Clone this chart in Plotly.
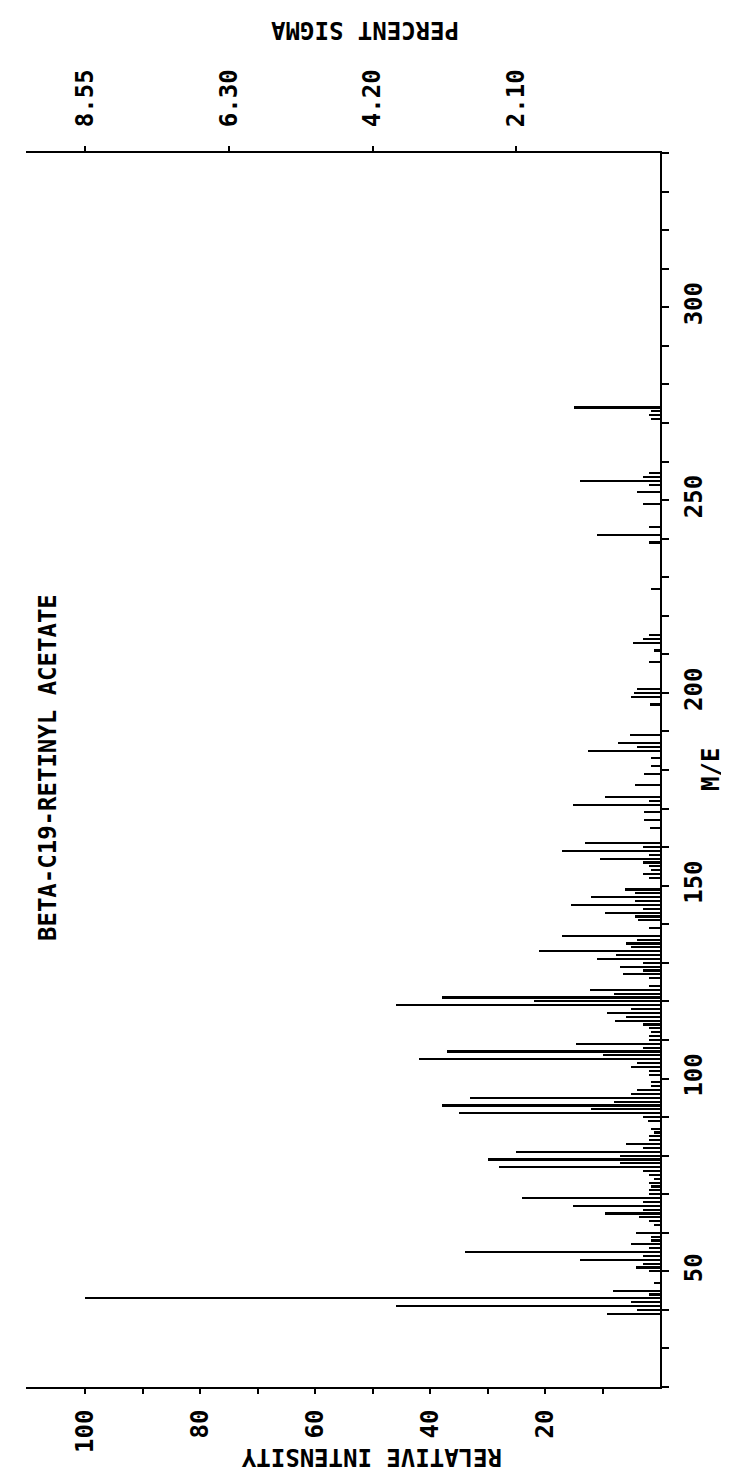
import plotly.graph_objects as go

# m/e values and relative intensities
mass = [39, 40, 41, 42, 43, 44, 45, 47, 50, 51, 52, 53, 54, 55, 56, 57, 58,
        59, 60, 62, 63, 64, 65, 66, 67, 68, 69, 70, 71, 72, 73, 74, 75, 76,
        77, 78, 79, 80, 81, 82, 83, 84, 85, 86, 87, 89, 90, 91, 92, 93, 94,
        95, 96, 97, 98, 99, 101, 102, 103, 104, 105, 106, 107, 108, 109,
        110, 111, 112, 113, 114, 115, 116, 117, 118, 119, 120, 121, 122,
        123, 124, 126, 127, 128, 129, 130, 131, 132, 133, 134, 135, 136,
        137, 139, 141, 142, 143, 144, 145, 146, 147, 148, 149, 152, 153,
        154, 155, 156, 157, 158, 159, 160, 161, 165, 167, 169, 171, 172,
        173, 176, 179, 181, 183, 185, 186, 187, 189, 197, 199, 200, 201,
        208, 211, 213, 214, 215, 227, 239, 241, 243, 249, 252, 254, 255,
        256, 257, 271, 272, 273, 274]
intensity = [9.3, 4, 46, 5, 100, 2, 8.2, 1, 2, 4.1, 3, 14, 3, 34, 2, 5, 1.5,
             1.5, 4.1, 1, 2, 3.6, 9.5, 3, 15.1, 3, 24, 2, 2, 1.5, 2, 1, 2, 3,
             28, 7, 30, 7, 25, 3, 5.9, 2, 2, 1, 1.5, 2.1, 3, 35, 12, 38, 8,
             33, 5, 4, 1.5, 1.5, 2, 2, 5, 4, 42, 10, 37, 3, 14.7,
             2, 2, 1.5, 2, 3, 7.9, 6, 9.3, 5, 46, 22, 38, 8,
             12.2, 2, 2, 6.4, 3, 7, 3, 11, 7.6, 21, 5, 6, 4,
             17, 2, 3.9, 4.4, 9.6, 3, 15.4, 4.4, 12, 4.4, 6.1, 2, 3,
             1.5, 2, 3, 10.5, 2, 17, 3, 13.1, 1.8, 2.7, 2.7, 15.1, 2,
             9.5, 4.3, 2.7, 1.5, 1.5, 12.5, 4, 7.3, 5.3, 1.8, 5, 4.5, 4,
             2, 1, 4.7, 3, 2, 1.5, 2, 11, 2, 3, 4, 2, 14,
             3, 2, 1.5, 2, 1.5, 15]

int_ticks = [10, 20, 30, 40, 50, 60, 70, 80, 90, 100]
int_labels = ["", "20", "", "40", "", "60", "", "80", "", "100"]
sigma_pos = [25, 50, 75, 100]
sigma_labels = ["2.10", "4.20", "6.30", "8.55"]
me_ticks = list(range(20, 341, 10))
me_labels = [str(v) if v % 50 == 0 and 50 <= v <= 300 else "" for v in me_ticks]

FONT = "DejaVu Sans Mono"
tick_font = dict(family=FONT, size=24, color="black", weight="bold")
title_font = dict(family=FONT, size=24, color="black", weight="bold")

fig = go.Figure()
fig.add_trace(go.Bar(x=intensity, y=mass, orientation="h", width=0.55,
                     marker=dict(color="black", line=dict(width=0)),
                     xaxis="x", yaxis="y", showlegend=False))
fig.add_trace(go.Scatter(x=[None], y=[None], xaxis="x2", yaxis="y",
                         showlegend=False))

fig.update_layout(
    width=729, height=1470,
    margin=dict(l=18, r=77, t=145, b=91),
    paper_bgcolor="white", plot_bgcolor="white",
    font=tick_font,
    bargap=0,
    xaxis=dict(range=[110.3, 0], tickvals=int_ticks, ticktext=int_labels,
               tickangle=-90, ticks="outside", ticklen=5, tickwidth=2,
               tickcolor="black", showline=True, linecolor="black",
               linewidth=2, showgrid=False, zeroline=False,
               tickfont=tick_font, ticklabelstandoff=6),
    xaxis2=dict(range=[110.3, 0], overlaying="x", side="top",
                tickvals=sigma_pos, ticktext=sigma_labels, tickangle=-90,
                ticks="outside", ticklen=5, tickwidth=2, tickcolor="black",
                showline=True, linecolor="black", linewidth=2,
                showgrid=False, zeroline=False, tickfont=tick_font,
                ticklabelstandoff=14),
    yaxis=dict(range=[20, 340], side="right", tickvals=me_ticks,
               ticktext=me_labels, tickangle=-90, ticks="outside",
               ticklen=7, tickwidth=2, tickcolor="black", showline=True,
               linecolor="black", linewidth=2, showgrid=False,
               zeroline=False, tickfont=tick_font, ticklabelstandoff=4),
)

W, H = 729, 1470
l, r, t, b = 18, 77, 145, 91
pw, ph = W - l - r, H - t - b


def add_text(text, px, py, angle, font):
    fig.add_annotation(text=text, xref="paper", yref="paper",
                       x=(px - l) / pw, y=(H - b - py) / ph,
                       xanchor="center", yanchor="middle",
                       showarrow=False, textangle=angle, font=font)


add_text("RELATIVE INTENSITY", 363, 1449, 180, title_font)
add_text("PERCENT SIGMA", 357, 22, 180, title_font)
add_text("M/E", 703, 762, -90, title_font)
add_text("BETA-C19-RETINYL ACETATE", 40, 760, -90, title_font)

fig.write_html("out.html")
